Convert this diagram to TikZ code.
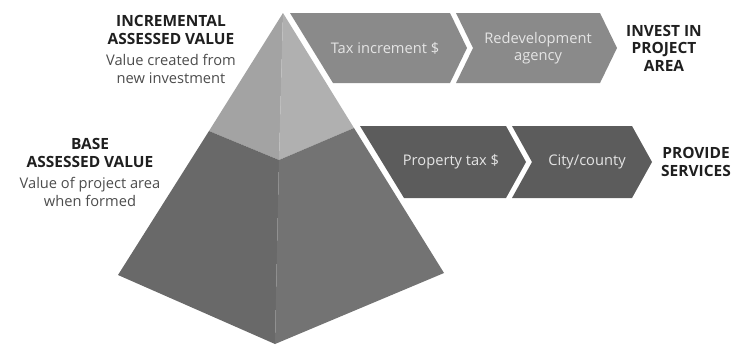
\documentclass[tikz,border=0pt]{standalone}
\usepackage{fontspec}
\setmainfont{Open Sans}
\usepackage{tikz}
\usetikzlibrary{positioning}
\definecolor{incleft}{gray}{0.64}
\definecolor{incright}{gray}{0.69}
\definecolor{baseleft}{gray}{0.41}
\definecolor{baseright}{gray}{0.45}
\definecolor{upperflow}{gray}{0.54}
\definecolor{lowerflow}{gray}{0.36}
\definecolor{flowtext}{gray}{0.90}
\definecolor{notegray}{gray}{0.30}
\tikzset{title node/.style={align=center, inner sep=0pt, text=black!88,
    font=\fontsize{11.6}{13.2}\selectfont\bfseries}}
\tikzset{note node/.style={align=center, inner sep=0pt, text=notegray,
    font=\fontsize{11}{13.8}\selectfont}}
\tikzset{flow text/.style={align=center, inner sep=0pt, text=flowtext,
    font=\fontsize{11}{12.8}\selectfont}}
\tikzset{upper chevron/.style={fill=upperflow}}
\tikzset{lower chevron/.style={fill=lowerflow}}

\begin{document}
\begin{tikzpicture}
      [x=0.75pt, y=-0.75pt]
      \useasboundingbox (0,0) rectangle (741,344);
      % pyramid corners
      \coordinate (apex)   at (283, 13);
      \coordinate (left)   at (118,275);
      \coordinate (bottom) at (275,344);
      \coordinate (right)  at (444,273);
      \coordinate (cutl)   at (209,131);
      \coordinate (cutc)   at (279,160);
      \coordinate (cutr)   at (354,128);

      \fill [incleft]   (apex) -- (cutl) -- (cutc) -- cycle;
      \fill [incright]  (apex) -- (cutc) -- (cutr) -- cycle;
      \fill [baseleft]  (cutl) -- (left) -- (bottom) -- (cutc) -- cycle;
      \fill [baseright] (cutc) -- (bottom) -- (right) -- (cutr) -- cycle;

      % flows
      \fill [upper chevron] (290,13) -- (450,13) -- (467,48) -- (450,83) -- (333,83) -- cycle;
      \fill [upper chevron] (456,13) -- (600,13) -- (617,48) -- (600,83) -- (456,83) -- (473,48) -- cycle;
      \fill [lower chevron] (360,126) -- (506,126) -- (526,162) -- (506,198) -- (404,198) -- cycle;
      \fill [lower chevron] (512,126) -- (632,126) -- (652,162) -- (632,198) -- (512,198) -- (532,162) -- cycle;

      \node [flow text]  (taxinc)  at (385, 48) {Tax increment \$};
      \node [flow text]  (agency)  at (538, 48) {Redevelopment\\agency};
      \node [flow text]  (proptax) at (451,162) {Property tax \$};
      \node [flow text]  (city)    at (587,162) {City/county};

      \node [title node] (invest)  at (664, 48) {INVEST IN\\PROJECT\\AREA};
      \node [title node] (provide) at (696,162) {PROVIDE\\SERVICES};

      \node [title node] (inctitle)  at (171, 30) {INCREMENTAL\\ASSESSED VALUE};
      \node [note node]  (incnote)   at (171, 69) {Value created from\\new investment};
      \node [title node] (basetitle) at ( 90,153) {BASE\\ASSESSED VALUE};
      \node [note node]  (basenote)  at ( 90,192) {Value of project area\\when formed};
    \end{tikzpicture}
\end{document}
